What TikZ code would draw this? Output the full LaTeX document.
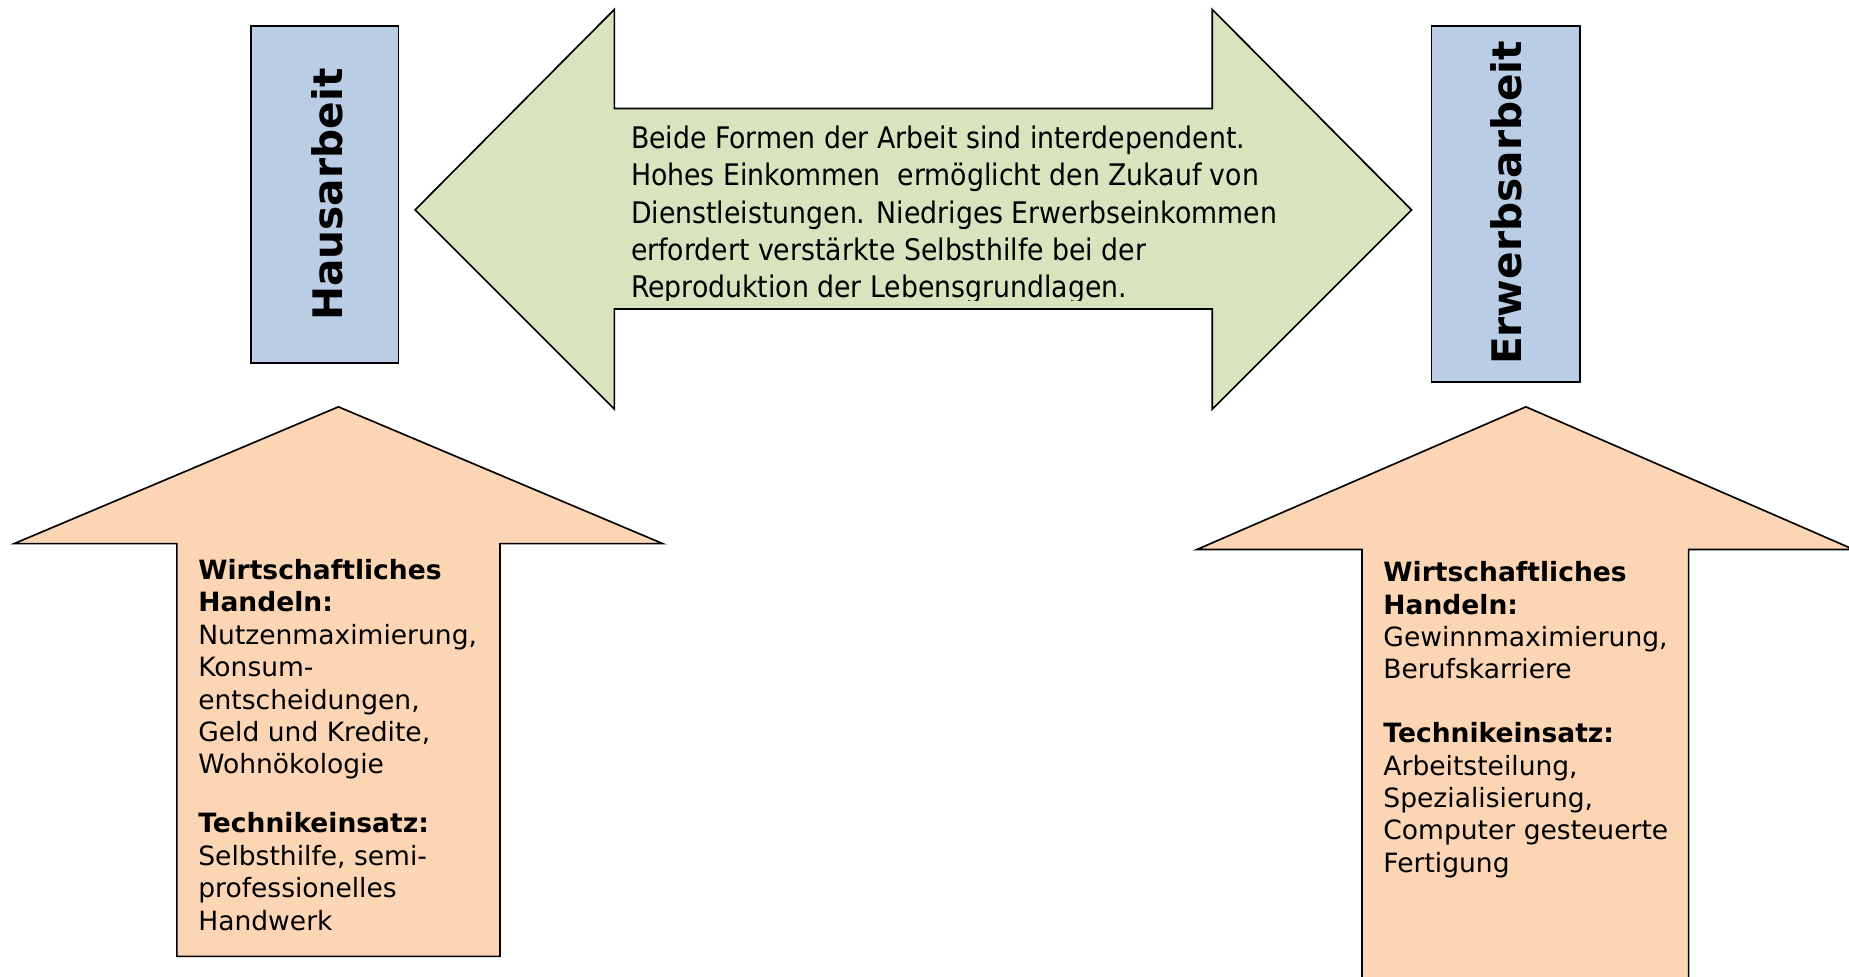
\documentclass[tikz,border=0pt]{standalone}
\usepackage{fontspec}
\setmainfont{DejaVu Sans}
\newfontfamily\condfont{DejaVu Sans Condensed}
\definecolor{boxblue}{HTML}{B9CDE5}
\definecolor{arrgreen}{HTML}{D7E4BD}
\definecolor{arrorange}{HTML}{FCD5B5}
\begin{document}
\begin{tikzpicture}[x=1pt,y=-1pt,
  outline/.style={draw=black,line width=1.4pt,line join=miter},
  vlabel/.style={rotate=90,inner sep=0pt,font=\bfseries\fontsize{34.5}{40}\selectfont},
  bodytext/.style={anchor=north west,align=left,inner sep=0pt,font=\fontsize{22.5}{27.5}\selectfont},
  greentext/.style={anchor=north west,align=left,inner sep=0pt,font=\condfont\fontsize{25.2}{31.7}\selectfont}]
\useasboundingbox (0,0) rectangle (1568,828);
\clip (0,0) rectangle (1568,828);
% blue boxes
\draw[outline,fill=boxblue] (213,22) rectangle (338,308);
\node[vlabel] (haus) at (277.5,165) {Hausarbeit};
\draw[outline,fill=boxblue] (1214,22) rectangle (1340,324);
\node[vlabel] (erwerb) at (1277.5,172) {Erwerbsarbeit};
% green double arrow
\draw[outline,fill=arrgreen] (352,178) -- (521,8) -- (521,92) -- (1028,92) -- (1028,8) -- (1197,178)
  -- (1028,347) -- (1028,262) -- (521,262) -- (521,347) -- cycle;
\begin{scope}
\clip (400,96) rectangle (1190,255);
\node[greentext] (mid) at (535,106.5) {Beide Formen der Arbeit sind interdependent.\\
Hohes Einkommen\ \ ermöglicht den Zukauf von\\
Dienstleistungen. Niedriges Erwerbseinkommen\\
erfordert verstärkte Selbsthilfe bei der\\
Reproduktion der Lebensgrundlagen.};
\end{scope}
% left orange arrow
\draw[outline,fill=arrorange] (287,345) -- (562,461) -- (424,461) -- (424,811) -- (150,811) -- (150,461) -- (12,461) -- cycle;
\node[bodytext] (lefttext) at (168,474) {\textbf{Wirtschaftliches}\\
\textbf{Handeln:}\\
Nutzenmaximierung,\\
Konsum-\\
entscheidungen,\\
Geld und Kredite,\\
Wohnökologie\\[22.5pt]
\textbf{Technikeinsatz:}\\
Selbsthilfe, semi-\\
professionelles\\
Handwerk};
% right orange arrow
\draw[outline,fill=arrorange] (1294,345) -- (1572,466) -- (1432,466) -- (1432,840) -- (1155,840) -- (1155,466) -- (1015,466) -- cycle;
\node[bodytext] (righttext) at (1173,476) {\textbf{Wirtschaftliches}\\
\textbf{Handeln:}\\
Gewinnmaximierung,\\
Berufskarriere\\[26.5pt]
\textbf{Technikeinsatz:}\\
Arbeitsteilung,\\
Spezialisierung,\\
Computer gesteuerte\\
Fertigung};
\end{tikzpicture}
\end{document}
